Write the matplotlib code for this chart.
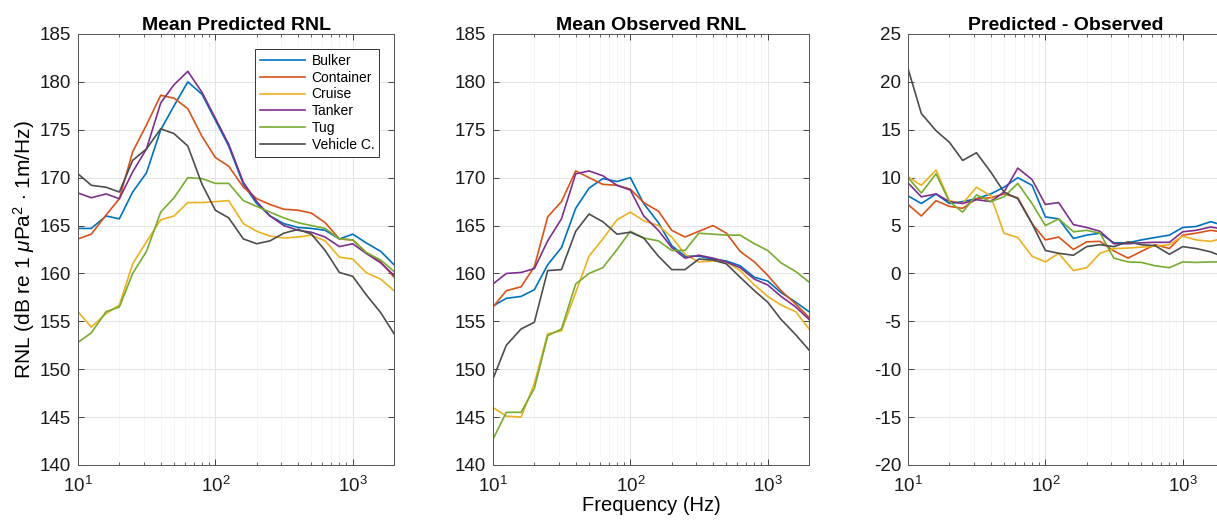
import matplotlib.pyplot as plt
import numpy as np

plt.rcParams['font.family'] = ['Liberation Sans', 'DejaVu Sans']
plt.rcParams['mathtext.fontset'] = 'custom'
plt.rcParams['mathtext.rm'] = 'Liberation Sans'
plt.rcParams['mathtext.it'] = 'Liberation Sans:italic'
plt.rcParams['axes.unicode_minus'] = False

# 1/3 octave band centre frequencies (Hz)
freq = [10, 12.5, 16, 20, 25, 31.5, 40, 50, 63, 80, 100, 125, 160, 200,
        250, 315, 400, 500, 630, 800, 1000, 1250, 1600, 2000]

ship_types = ["Bulker", "Container", "Cruise", "Tanker", "Tug", "Vehicle C."]
colors = ["#0072BD", "#D95319", "#EDB120", "#7E2F8E", "#77AC30", "#4D4D4D"]

# Mean predicted RNL
pred_bulker = [164.7, 164.7, 166.0, 165.7, 168.5, 170.5, 175.0, 177.5, 180.0, 178.7, 176.0, 173.3,
               169.3, 167.3, 166.0, 165.2, 164.8, 164.7, 164.5, 163.6, 164.1, 163.2, 162.3, 160.9]
pred_container = [163.6, 164.1, 166.1, 167.8, 172.7, 175.5, 178.6, 178.3, 177.2, 174.3, 172.1, 171.2,
                  169.0, 167.8, 167.2, 166.7, 166.6, 166.3, 165.3, 163.6, 163.5, 162.2, 161.2, 159.6]
pred_cruise = [156.0, 154.4, 155.8, 156.7, 161.0, 163.3, 165.6, 166.0, 167.4, 167.4, 167.5, 167.6,
               165.2, 164.4, 163.9, 163.7, 163.8, 164.0, 163.4, 161.7, 161.5, 160.1, 159.4, 158.2]
pred_tanker = [168.4, 167.9, 168.3, 167.8, 170.6, 173.0, 177.8, 179.7, 181.1, 178.9, 176.2, 173.5,
               169.5, 167.5, 166.0, 165.0, 164.5, 164.3, 163.8, 162.8, 163.1, 162.1, 161.1, 159.8]
pred_tug = [152.8, 153.8, 156.0, 156.5, 160.0, 162.3, 166.4, 167.9, 170.0, 169.9, 169.4, 169.4,
            167.6, 167.0, 166.4, 165.8, 165.3, 165.0, 164.7, 163.6, 163.5, 162.2, 161.4, 160.2]
pred_vehicle = [170.4, 169.2, 169.0, 168.5, 171.8, 173.0, 175.1, 174.6, 173.3, 169.3, 166.6, 165.8,
                163.6, 163.1, 163.4, 164.2, 164.6, 164.1, 162.4, 160.1, 159.7, 157.8, 155.9, 153.7]

# Mean observed RNL
obs_bulker = [156.6, 157.4, 157.6, 158.3, 160.9, 162.7, 166.8, 168.9, 169.9, 169.6, 170.0, 167.3,
              165.3, 162.9, 161.8, 161.8, 161.5, 161.3, 160.8, 159.6, 159.2, 158.0, 157.0, 156.0]
obs_container = [156.5, 158.2, 158.6, 160.7, 165.9, 167.5, 170.7, 170.0, 169.3, 169.2, 168.8, 167.4,
                 166.5, 164.5, 163.8, 164.4, 165.0, 164.2, 162.3, 161.2, 159.8, 158.2, 156.8, 155.4]
obs_cruise = [146.0, 145.1, 145.0, 148.5, 153.7, 154.0, 158.0, 161.8, 163.6, 165.6, 166.4, 165.5,
              165.0, 163.8, 162.0, 161.2, 161.3, 161.2, 160.3, 158.8, 157.6, 156.7, 156.0, 154.2]
obs_tanker = [158.9, 160.0, 160.1, 160.5, 163.4, 165.7, 170.4, 170.7, 170.2, 169.2, 168.7, 166.0,
              164.5, 162.7, 161.6, 161.9, 161.6, 161.2, 160.6, 159.4, 158.8, 157.6, 156.5, 155.2]
obs_tug = [142.7, 145.5, 145.5, 148.0, 153.5, 154.2, 158.9, 160.0, 160.6, 162.5, 164.4, 163.7,
           163.4, 162.4, 162.4, 164.2, 164.1, 164.0, 164.0, 163.1, 162.4, 161.1, 160.2, 159.1]
obs_vehicle = [149.0, 152.5, 154.2, 154.9, 160.3, 160.4, 164.4, 166.2, 165.4, 164.1, 164.3, 163.7,
               161.8, 160.4, 160.4, 161.5, 161.4, 161.0, 159.6, 158.2, 157.0, 155.2, 153.6, 152.0]

# Predicted - observed
diff_bulker = [8.1, 7.3, 8.3, 7.3, 7.5, 7.8, 8.3, 9.0, 10.0, 9.2, 5.9, 5.7,
               3.65, 4.0, 4.2, 3.2, 3.2, 3.5, 3.75, 4.0, 4.8, 4.9, 5.4, 5.0]
diff_container = [7.2, 6.0, 7.6, 7.0, 6.8, 7.8, 7.9, 8.3, 7.9, 5.2, 3.5, 3.8,
                  2.5, 3.3, 3.35, 2.35, 1.6, 2.3, 3.0, 2.6, 4.0, 4.2, 4.5, 4.3]
diff_cruise = [10.1, 9.2, 10.8, 7.6, 7.3, 9.0, 8.1, 4.2, 3.75, 1.8, 1.2, 2.1,
               0.3, 0.6, 2.1, 2.6, 2.65, 2.75, 2.85, 3.0, 3.9, 3.5, 3.35, 3.7]
diff_tanker = [9.45, 8.0, 8.3, 7.5, 7.3, 7.7, 7.5, 8.5, 11.0, 9.8, 7.2, 7.4,
               5.1, 4.8, 4.4, 3.1, 3.1, 3.2, 3.25, 3.25, 4.35, 4.5, 4.85, 4.6]
diff_tug = [10.0, 8.4, 10.4, 7.5, 6.4, 8.2, 7.5, 8.0, 9.4, 7.3, 5.0, 5.7,
            4.35, 4.5, 4.2, 1.6, 1.2, 1.15, 0.8, 0.6, 1.2, 1.15, 1.2, 1.2]
diff_vehicle = [21.4, 16.7, 14.9, 13.7, 11.8, 12.6, 10.6, 8.5, 7.8, 5.2, 2.4, 2.1,
                1.9, 2.8, 3.0, 2.8, 3.3, 3.0, 2.9, 2.0, 2.8, 2.6, 2.25, 1.7]

predicted = [pred_bulker, pred_container, pred_cruise, pred_tanker, pred_tug, pred_vehicle]
observed = [obs_bulker, obs_container, obs_cruise, obs_tanker, obs_tug, obs_vehicle]
difference = [diff_bulker, diff_container, diff_cruise, diff_tanker, diff_tug, diff_vehicle]

fig = plt.figure(figsize=(12.17, 5.22), dpi=100)
w, h, b = 0.2597, 0.8257, 0.1092
ax1 = fig.add_axes([0.0641, b, w, h])
ax2 = fig.add_axes([0.4051, b, w, h])
ax3 = fig.add_axes([0.7461, b, w, h])

panels = [
    (ax1, predicted, "Mean Predicted RNL", (140, 185)),
    (ax2, observed, "Mean Observed RNL", (140, 185)),
    (ax3, difference, "Predicted - Observed", (-20, 25)),
]

for ax, data, title, ylim in panels:
    for name, vals, c in zip(ship_types, data, colors):
        ax.plot(freq, vals, color=c, lw=1.2, label=name)
    ax.set_xscale('log')
    ax.set_xlim(10, 2000)
    ax.set_ylim(*ylim)
    ax.set_yticks(np.arange(ylim[0], ylim[1] + 1, 5))
    ax.set_title(title, fontsize=14, fontweight='bold', pad=3)
    ax.grid(True, which='major', color='#e4e4e4', lw=0.7)
    ax.grid(True, which='minor', axis='x', color='#f5f5f5', lw=0.6)
    ax.set_axisbelow(True)
    ax.tick_params(which='both', direction='in', top=True, right=True,
                   labelsize=13.5, colors='#262626', labelcolor='#1a1a1a')
    ax.tick_params(which='major', length=4, width=0.6)
    ax.tick_params(which='minor', length=2, width=0.5)
    ax.tick_params(axis='x', which='major', pad=8)
    ax.tick_params(axis='y', which='major', pad=5)
    for s in ax.spines.values():
        s.set_color('#555555')
        s.set_linewidth(0.7)

ax1.set_ylabel(r"RNL (dB re 1 $\mu$Pa$^2$ $\cdot$ 1m/Hz)", fontsize=15, labelpad=2)
ax2.set_xlabel("Frequency (Hz)", fontsize=14.5, labelpad=0)

leg = ax1.legend(loc='upper right', bbox_to_anchor=(0.953, 0.965), borderaxespad=0,
                 fontsize=10, fancybox=False, framealpha=1, edgecolor='#333333',
                 handlelength=3.2, labelspacing=0.2, handletextpad=0.5, borderpad=0.35)
leg.get_frame().set_linewidth(0.7)

fig.savefig("out.png", dpi=100)
